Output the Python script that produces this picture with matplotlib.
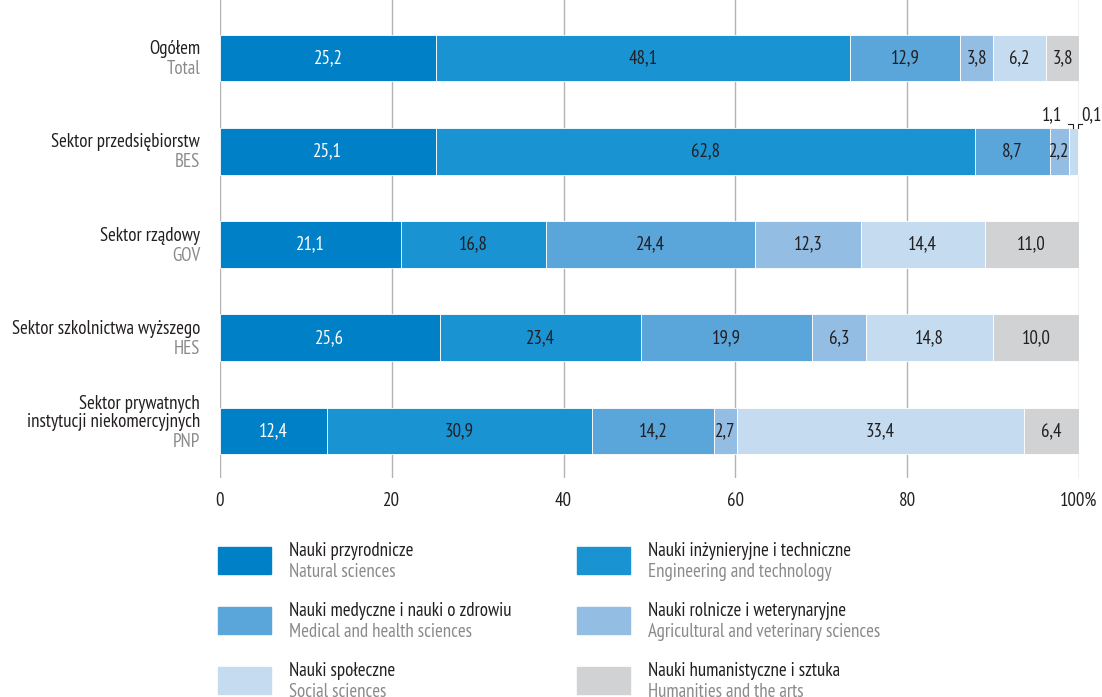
import matplotlib
matplotlib.use("Agg")
import matplotlib.pyplot as plt
from matplotlib.patches import Rectangle

plt.rcParams["font.family"] = ["PT Sans Narrow", "Asap Condensed", "DejaVu Sans"]

sectors_pl = ["Ogółem", "Sektor przedsiębiorstw", "Sektor rządowy",
              "Sektor szkolnictwa wyższego",
              "Sektor prywatnych\ninstytucji niekomercyjnych"]
sectors_en = ["Total", "BES", "GOV", "HES", "PNP"]

fields_pl = ["Nauki przyrodnicze", "Nauki inżynieryjne i techniczne",
             "Nauki medyczne i nauki o zdrowiu", "Nauki rolnicze i weterynaryjne",
             "Nauki społeczne", "Nauki humanistyczne i sztuka"]
fields_en = ["Natural sciences", "Engineering and technology",
             "Medical and health sciences", "Agricultural and veterinary sciences",
             "Social sciences", "Humanities and the arts"]

natural = [25.2, 25.1, 21.1, 25.6, 12.4]
engineering = [48.1, 62.8, 16.8, 23.4, 30.9]
medical = [12.9, 8.7, 24.4, 19.9, 14.2]
agricultural = [3.8, 2.2, 12.3, 6.3, 2.7]
social = [6.2, 1.1, 14.4, 14.8, 33.4]
humanities = [3.8, 0.1, 11.0, 10.0, 6.4]
series = [natural, engineering, medical, agricultural, social, humanities]

ticks = [0, 20, 40, 60, 80, 100]
tick_labels = ["0", "20", "40", "60", "80", "100%"]

colors = ["#0080C6", "#1A93D3", "#5AA6DA", "#93BDE3", "#C5DCF0", "#D1D2D4"]
dark = "#231F20"
grey = "#8A8A8A"


def fmt(v):
    return f"{v:.1f}".replace(".", ",")


W, H = 1102, 697
fig = plt.figure(figsize=(W / 100, H / 100), dpi=100)
ax = fig.add_axes([220 / W, 1 - 478 / H, (1079 - 220) / W, 478 / H])

ypos = list(range(len(sectors_en)))
left = [0.0] * len(ypos)
fs = 13.6
for i, vals in enumerate(series):
    ax.barh(ypos, vals, left=left, height=0.5, color=colors[i],
            edgecolor="white", linewidth=0.6, zorder=2)
    for j, v in enumerate(vals):
        cx = left[j] + v / 2
        if v >= 2.0:
            ax.text(cx, ypos[j], fmt(v), ha="center", va="center", fontsize=fs,
                    color="white" if i == 0 else dark, zorder=3)
        left[j] += v

# the two thinnest BES segments are labelled above the bar with leader lines
j = 1
start_soc = sum(s[j] for s in series[:4])
c_soc = start_soc + social[j] / 2
c_hum = start_soc + social[j] + humanities[j] / 2
ytop = ypos[j] - 0.25
yline = ypos[j] - 0.29
ylab = ypos[j] - 0.39
ax.text(c_soc - 2.5, ylab, fmt(social[j]), ha="center", va="center",
        fontsize=fs, color=dark, clip_on=False)
ax.text(c_hum + 1.5, ylab, fmt(humanities[j]), ha="center", va="center",
        fontsize=fs, color=dark, clip_on=False)
ax.plot([c_soc - 0.6, c_soc, c_soc], [yline, yline, ytop], color=dark, lw=0.8,
        clip_on=False, zorder=4)
ax.plot([c_hum + 0.4, c_hum - 0.1, c_hum - 0.1], [yline, yline, ytop],
        color=dark, lw=0.8, clip_on=False, zorder=4)

ax.set_xlim(0, 100)
ax.set_ylim(4.504, -0.622)
ax.set_xticks(ticks)
ax.set_xticklabels(tick_labels, fontsize=fs, color=dark)
ax.tick_params(axis="x", length=0, pad=10)
ax.set_yticks([])
for sp in ax.spines.values():
    sp.set_visible(False)
for t in ticks:
    ax.axvline(t, color="#B3B3B3", lw=1.0, zorder=1)

# category labels: Polish name in dark, English abbreviation in grey below
for j in ypos:
    y_en = ypos[j] + 0.118
    ax.text(-2.3, y_en, sectors_en[j], ha="right", va="center", fontsize=fs,
            color=grey, clip_on=False)
    ax.text(-2.3, y_en - 0.118, sectors_pl[j], ha="right", va="bottom",
            fontsize=fs, color=dark, clip_on=False, linespacing=0.98)

# legend
cols_x = [218, 577]
rows_y = [560, 620, 680]
for k in range(6):
    r, c = divmod(k, 2)
    x0 = cols_x[c]
    yc = rows_y[r]
    fig.patches.append(Rectangle((x0 / W, 1 - (yc + 13.5) / H), 53 / W, 27 / H,
                                 transform=fig.transFigure, color=colors[k]))
    fig.text((x0 + 71) / W, 1 - (yc - 9) / H, fields_pl[k], fontsize=fs,
             color=dark, va="center", ha="left")
    fig.text((x0 + 71) / W, 1 - (yc + 12) / H, fields_en[k], fontsize=fs,
             color=grey, va="center", ha="left")

fig.savefig("out.png", dpi=100)
